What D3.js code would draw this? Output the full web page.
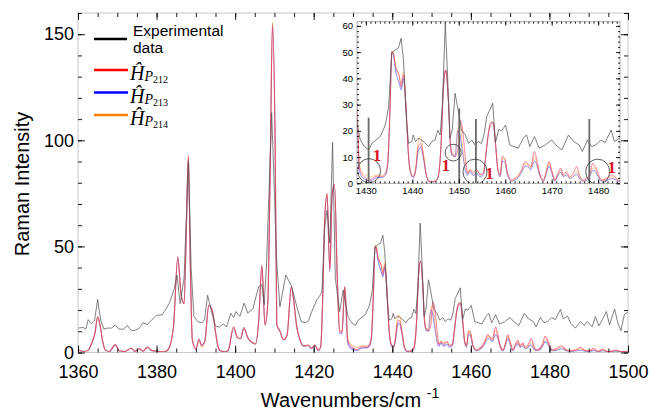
<!DOCTYPE html>
<html>
<head>
<meta charset="utf-8">
<script src="https://cdn.jsdelivr.net/npm/d3@7"></script>
<style>
body { margin: 0; background: #fff; }
svg { display: block; }
text { font-family: "Liberation Sans", Arial, sans-serif; }
</style>
</head>
<body>
<svg id="chart" width="650" height="412"></svg>
<script>
// experimental spectrum
var expWn = [1360,1361.3,1362,1362.6,1363.4,1364.2,1365,1365.8,1366.6,1367.5,
  1368.5,1369.5,1370.4,1371.6,1372.6,1373.6,1374.6,1375.6,1376.5,1377.7,
  1378.8,1380,1381.4,1382.4,1383.2,1384.5,1385.2,1386,1387,1388.1,
  1388.8,1389.5,1390.5,1391.6,1392.2,1393,1394,1395,1396,1397,
  1397.8,1398.9,1399.6,1400.2,1401.2,1402.3,1403.2,1404.5,1405.4,1406,
  1406.8,1407.4,1408,1408.7,1409.3,1410,1410.5,1411.4,1412.9,1413.6,
  1414.4,1415.7,1416.8,1417.8,1418.7,1419.5,1420.8,1421.6,1422.1,1422.8,
  1423.4,1424.1,1424.8,1425.5,1426.6,1427.5,1428,1428.8,1429.7,1430.6,
  1431.3,1432.2,1433.1,1434.2,1434.9,1435.6,1436.3,1437,1437.6,1438.1,
  1438.8,1439.2,1439.9,1440.2,1440.7,1441.3,1442,1442.8,1443.5,1444.2,
  1444.9,1445.5,1446,1446.5,1447.1,1447.6,1448.1,1448.6,1449.2,1449.8,
  1450.6,1451.4,1452.1,1452.8,1453.5,1454.2,1454.9,1455.5,1456,1456.7,
  1457.3,1457.9,1458.6,1459.2,1460.1,1461,1462.8,1463.9,1464.6,1465.3,
  1466.3,1467.3,1468.6,1470,1470.9,1472.2,1473.6,1474.7,1475.9,1476.6,
  1477.7,1478.6,1479.5,1480.6,1481.5,1482.8,1483.5,1484.6,1485.4,1486.6,
  1487.9,1488.9,1489.6,1490.9,1491.7,1492.6,1493.6,1494.5,1495.3,1496.1,
  1496.6,1497.4,1498.2,1499.1,1500];
var expInt = [11.5,11.8,11,15.5,13.5,15,25,15,11,11.5,
  11.5,13,11,11,12.7,10.3,10.5,11.5,14,13.2,
  15.5,17.5,17.8,20.5,23,30,36.5,23,35,90,
  40,17,14.5,14,15.5,27,19,12.5,12,13.5,
  12,18.5,16.5,19.3,17,23.3,18.6,20.5,27,31,
  32,22.5,42,80,113,75,45,21.6,36.5,34,
  31,21.6,14.7,14,15,19.3,24.8,27,28.5,59,
  67,51.6,99,35,19.3,29.5,24,16.5,14,12.7,
  15.2,16.5,17.8,22.2,29.2,49.6,50.8,51.5,55.3,47,
  22.9,15.2,15.9,18.4,15.9,17.2,16.5,15.2,14,15.9,
  16.5,20.3,18.4,30.5,61,40.7,17.2,20.3,34.3,28.6,
  20.3,18.4,15.2,16.5,14.6,15.9,15.2,19,25.4,28,
  30.5,15.5,20.5,20,22.2,14.6,13.4,17.2,18.4,14,
  17.8,13.4,14.6,16.5,14.6,12.7,18.4,15.9,14.6,12.1,
  16.5,14,14.6,16.5,15.5,20.3,15.9,17.2,13.8,11.5,
  14.6,12.7,14.6,12.2,16.9,12.5,16,19.3,13,17.8,
  20.4,14,10.3,18.1,19];

// computed spectra (shared wavenumber grid)
var thWn = [1360,1361.5,1362.6,1363.4,1364.3,1365,1365.6,1366.3,1367,1368,
  1369.5,1370.5,1372,1373.5,1374.5,1375.5,1376.5,1377.7,1378.7,1380.2,
  1382,1383,1384.3,1385.4,1386.2,1387,1387.6,1388.1,1388.6,1389.1,
  1390,1390.8,1391.5,1392.3,1393.3,1394.2,1394.9,1395.5,1396.2,1397.5,
  1398.2,1399.6,1400.6,1401.4,1402.2,1403.2,1404.5,1405.2,1406,1406.8,
  1407.6,1408.3,1408.9,1409.5,1410.2,1410.6,1411.4,1412.3,1413.2,1414.3,
  1414.8,1415.7,1416.5,1417.4,1418.6,1419.5,1420.3,1421.2,1421.8,1422.2,
  1422.8,1423.4,1424.1,1424.7,1425.3,1426,1426.6,1427.2,1427.9,1428.3,
  1428.6,1429.1,1430.2,1430.9,1432,1432.7,1433.4,1434.2,1434.7,1435.2,
  1435.6,1435.9,1436.4,1437.2,1437.6,1438.1,1438.6,1439.2,1439.7,1440.2,
  1440.7,1441.3,1441.8,1442.4,1443.1,1443.8,1444.5,1445.3,1445.8,1446.2,
  1446.7,1447.2,1447.8,1448.2,1448.6,1449.2,1449.8,1450.3,1450.8,1451.4,
  1451.9,1452.4,1453.1,1453.9,1454.6,1455.3,1455.8,1456.4,1456.9,1457.4,
  1457.9,1458.4,1458.9,1459.4,1459.9,1460.5,1461.4,1462.1,1462.8,1463.5,
  1464.3,1464.8,1465.5,1466.3,1466.8,1467.5,1468.2,1468.9,1469.4,1470,
  1470.7,1471.3,1472,1472.5,1473.2,1473.9,1474.6,1475.4,1476.1,1476.8,
  1477.5,1478.2,1478.9,1479.4,1480,1480.7,1481.8,1482.9,1483.6,1484.3,
  1485.5,1487,1488,1489,1490.2,1491.3,1492.3,1493.6,1495,1496,
  1497,1498,1500];
var hP212 = [1.2,0.5,1.0,4,9,17,13,5,1,0.5,
  3.7,0.8,0.5,2,0.5,1.8,0.6,2.5,1.0,0.5,
  0.3,1.5,12,45,28,23,60,93,40,6,
  1.5,6.5,3.4,5.7,22.4,19.5,11,4,0.8,0.3,
  0.8,12,7,6.5,11.8,7,4.5,4,15,41,
  13,23,83,155,95,13,10,6,8,31,
  26,12,6,3,3.5,2,3.5,1,3,20,
  63,75,39,75,79,35,10,9.4,31,18,
  6.4,3.8,1.9,1.3,2.5,2.8,2.5,3.6,7.6,28,
  50.2,49.6,44.5,40.7,36.8,41.3,30.5,10.2,3.8,2.5,
  5.1,14,15.2,10.2,2.5,0.6,0.6,1.3,5.1,15.2,
  36.8,43.2,30.5,15.2,11.4,10.2,12.7,24,21,10.2,
  3.8,5.1,3.8,5.1,3.2,3.8,10.2,19,22.2,22.9,
  15.2,5.7,3.2,10.2,9.5,3.8,1.3,1.9,3,5.1,
  8.3,7.6,6.4,12.1,8.9,3.2,1.3,5.1,8.3,5.1,
  1.3,3.8,5.7,3.2,4.4,2.5,3.8,6.4,2.5,1.3,
  1.9,3.8,7.6,6.4,3.8,1.3,1.9,3.2,2.5,1.3,
  0.8,1.5,2.5,1.0,0.8,2.0,0.6,1.5,0.4,0.8,
  1.2,0.4,0.5];
var hP213 = [1.1,0.5,1.0,4,9,16.5,13,5,1,0.5,
  3.6,0.8,0.5,2,0.5,1.8,0.6,2.4,1.0,0.5,
  0.3,1.5,12,45,28,23,60,92,40,6,
  1.5,6,3.2,5.5,22,19.5,11,4,0.8,0.3,
  0.8,11.8,7,6.5,11.5,7,4.5,4,15,41,
  13,23,83,154,95,13,10,6,8,31,
  26,12,6,3,3.2,1.8,3.2,0.8,3,20,
  63,74,38,75,79,35,9,9,31,17,
  5,2.5,1.2,0.8,1.9,2.2,2.2,3,7,28,
  50,49,43,38,35.6,40,29,10,3.5,2.2,
  4.5,12.5,13.8,9.5,2.3,0.5,0.5,1.2,5,15,
  36.5,43,30,14.5,10.5,10.2,20,18,12,5,
  3,4.5,3,3.8,2.5,3.2,10,19.5,23,23.2,
  15,5,2.5,8.5,8,3,0.8,1.2,2.2,4,
  6.5,6.5,5.2,8.5,7,2.5,0.8,4,6.5,4,
  0.8,2.8,4.2,2.5,3.2,1.8,2.5,3.5,1.5,0.8,
  1.2,2.8,5,4.5,2.5,0.8,1.0,1.8,1.5,0.8,
  0.5,0.8,1.2,0.6,0.4,1.0,0.4,0.8,0.3,0.5,
  0.6,0.3,0.3];
var hP214 = [1.3,0.6,1.1,4.2,9,16.8,13.2,5.2,1.1,0.6,
  3.8,0.9,0.6,2.1,0.6,1.9,0.7,2.6,1.1,0.6,
  0.4,1.6,12,45,28,23,60,93,40,6.2,
  1.8,5.5,2.2,5.2,22.5,19.8,11.2,4.2,1.0,0.4,
  1.0,12,7.2,6.6,11.6,7.2,4.6,4.2,15,41,
  13,23,83,156,95,13.2,10.2,6.2,8.2,31,
  26,12,6.2,3.2,3.6,2.2,3.6,1.2,3.2,20,
  63,75,39,75,79,35,11,10,31,21,
  8,4.5,3,2.5,3,3.2,3,4,8,29,
  50.5,50,45,41,38,42.5,31,11,4.2,3,
  6,16,17.8,11.5,3,0.8,0.8,1.5,5.5,15.5,
  37,43,30.5,15,11,11,21,22,14,6,
  4,5.5,4.5,5,3.5,4,10.5,20,23.5,23.5,
  15.5,5.5,3,9.5,9,3.5,1,1.5,2.6,4.6,
  7.5,7.2,5.8,10,8,2.8,1,4.6,7.5,4.6,
  1,3.2,5,2.8,3.8,2,3,4.5,2,1,
  1.5,3.2,6,5.5,3,1,1.4,2.5,2,1,
  0.6,1.1,1.8,0.8,0.6,1.4,0.5,1.1,0.3,0.6,
  0.9,0.3,0.4];

var seriesNames = ['212', '213', '214'];
var seriesColors = ['#ff0000', '#0000ff', '#ff8000'];
var xTicksMain = [1360, 1380, 1400, 1420, 1440, 1460, 1480, 1500];
var yTicksMain = [0, 50, 100, 150];
var xTicksInset = [1430, 1440, 1450, 1460, 1470, 1480];
var yTicksInset = [0, 10, 20, 30, 40, 50, 60];

// inset marks: vertical bars and circled "1" annotations
var barWn = [1430.6, 1450.1, 1453.7, 1478.1];
var barTop = [25, 28.5, 24.5, 24.5];
var ringWn = [1430.7, 1448.8, 1453.5, 1479.9];
var ringVal = [4.8, 11.7, 4.4, 4.4];
var ringR = [11.5, 8, 12, 12];
var noteWn = [1432.4, 1447.2, 1456.6, 1482.9];
var noteVal = [10.8, 7, 3.8, 6.4];

var svg = d3.select('#chart');

var x = d3.scaleLinear().domain([1360, 1500]).range([78, 628]);
var y = d3.scaleLinear().domain([0, 160]).range([352.5, 13]);
var xi = d3.scaleLinear().domain([1428.1, 1484.7]).range([357, 620]);
var yi = d3.scaleLinear().domain([0, 61.6]).range([183.3, 21.7]);

var defs = svg.append('defs');
defs.append('clipPath').attr('id', 'clipMain').append('rect')
  .attr('x', 78).attr('y', 13).attr('width', 550).attr('height', 339.5);
defs.append('clipPath').attr('id', 'clipInset').append('rect')
  .attr('x', 357).attr('y', 21.7).attr('width', 263).attr('height', 161.6);

var theory = [hP213, hP214, hP212];
var theoryCol = ['#2020ff', '#ff9020', '#f01030'];
var theoryOp = [0.5, 0.45, 0.5];

function drawSpectra(g, sx, sy, w) {
  var lineExp = d3.line().x(function(d, i){ return sx(expWn[i]); }).y(function(d){ return sy(d); });
  theory.forEach(function(vals, k) {
    var ln = d3.line().curve(d3.curveMonotoneX)
      .x(function(d, i){ return sx(thWn[i]); }).y(function(d){ return sy(d); });
    g.append('path').datum(vals).attr('d', ln)
      .attr('fill', 'none').attr('stroke', theoryCol[k])
      .attr('stroke-opacity', theoryOp[k]).attr('stroke-width', w);
  });
  g.append('path').datum(expInt).attr('d', lineExp)
    .attr('fill', 'none').attr('stroke', '#505050').attr('stroke-opacity', 0.9)
    .attr('stroke-width', 0.8);
}

// main plot
var gMain = svg.append('g').attr('clip-path', 'url(#clipMain)');
drawSpectra(gMain, x, y, 1.1);

// inset background
svg.append('rect').attr('x', 338).attr('y', 13).attr('width', 289).attr('height', 187)
  .attr('fill', '#fff');

var gIn = svg.append('g').attr('clip-path', 'url(#clipInset)');
drawSpectra(gIn, xi, yi, 1.0);

gIn.selectAll('.bar').data(barWn).enter().append('line')
  .attr('x1', function(d){ return xi(d); }).attr('x2', function(d){ return xi(d); })
  .attr('y1', yi(0)).attr('y2', function(d, i){ return yi(barTop[i]); })
  .attr('stroke', '#6a6a6a').attr('stroke-width', 1.8);

gIn.selectAll('.ring').data(ringWn).enter().append('ellipse')
  .attr('cx', function(d){ return xi(d); })
  .attr('cy', function(d, i){ return yi(ringVal[i]); })
  .attr('rx', function(d, i){ return ringR[i]; })
  .attr('ry', function(d, i){ return ringR[i] * 1.05; })
  .attr('fill', 'none').attr('stroke', '#333').attr('stroke-width', 0.8);

svg.selectAll('.note').data(noteWn).enter().append('text')
  .attr('x', function(d){ return xi(d); })
  .attr('y', function(d, i){ return yi(noteVal[i]) + 6; })
  .attr('text-anchor', 'middle')
  .style('font-family', '"Liberation Serif", serif')
  .style('font-weight', 'bold').style('font-size', '17px')
  .attr('fill', '#d8142a').text('1');

// inset frame & axes
svg.append('rect').attr('x', 357).attr('y', 21.7).attr('width', 263).attr('height', 161.6)
  .attr('fill', 'none').attr('stroke', '#999').attr('stroke-width', 0.8);

function tickAxis(axis, tr, minor, major, lenMinor, lenMajor, labels, pad, size) {
  var g1 = svg.append('g').attr('transform', tr)
    .call(axis.tickValues(minor).tickSize(-lenMinor).tickFormat(''));
  g1.select('.domain').remove();
  var g2 = svg.append('g').attr('transform', tr)
    .call(axis.tickValues(major).tickSize(-lenMajor).tickPadding(pad)
      .tickFormat(labels ? d3.format('d') : ''));
  g2.select('.domain').remove();
  g2.selectAll('text').style('font-size', size + 'px').attr('fill', '#000');
  svg.selectAll('.tick line').attr('stroke', '#000').attr('stroke-width', 0.9);
}

tickAxis(d3.axisBottom(xi), 'translate(0,183.3)', d3.range(1429, 1485, 1), xTicksInset, 2, 4, true, 4, 9.5);
tickAxis(d3.axisTop(xi), 'translate(0,21.7)', d3.range(1429, 1485, 1), xTicksInset, 2, 4, false, 3, 9.5);
tickAxis(d3.axisLeft(yi), 'translate(357,0)', d3.range(0, 62, 2), yTicksInset, 2, 4, true, 4, 9.5);
tickAxis(d3.axisRight(yi), 'translate(620,0)', d3.range(0, 62, 2), yTicksInset, 2, 4, false, 3, 9.5);

// main frame & axes
svg.append('rect').attr('x', 78).attr('y', 13).attr('width', 550).attr('height', 339.5)
  .attr('fill', 'none').attr('stroke', '#c8c8c8').attr('stroke-width', 1);

tickAxis(d3.axisBottom(x), 'translate(0,352.5)', d3.range(1360, 1501, 5), xTicksMain, 4, 7, true, 12.5, 18);
tickAxis(d3.axisTop(x), 'translate(0,13)', d3.range(1360, 1501, 5), xTicksMain, 4, 7, false, 3, 18);
tickAxis(d3.axisLeft(y), 'translate(78,0)', d3.range(0, 161, 10), yTicksMain, 4, 7, true, 4, 18);
tickAxis(d3.axisRight(y), 'translate(628,0)', d3.range(0, 161, 10), yTicksMain, 4, 7, false, 3, 18);

// axis titles
svg.append('text').attr('transform', 'translate(29,184) rotate(-90)')
  .attr('text-anchor', 'middle').style('font-size', '20px').text('Raman Intensity');
var xt = svg.append('text').attr('x', 350).attr('y', 407).attr('text-anchor', 'middle')
  .style('font-size', '20px');
xt.append('tspan').text('Wavenumbers/cm ');
xt.append('tspan').attr('dy', -9).style('font-size', '14px').text('-1');

// legend
var lg = svg.append('g');
lg.append('line').attr('x1', 94).attr('x2', 127).attr('y1', 39).attr('y2', 39)
  .attr('stroke', '#000').attr('stroke-width', 2.5);
lg.append('text').attr('x', 133).attr('y', 36).style('font-size', '15.5px').text('Experimental');
lg.append('text').attr('x', 133).attr('y', 53).style('font-size', '15.5px').text('data');

seriesNames.forEach(function(s, i) {
  var ly = 70 + i * 22.5;
  lg.append('line').attr('x1', 94).attr('x2', 128).attr('y1', ly).attr('y2', ly)
    .attr('stroke', seriesColors[i]).attr('stroke-width', 2.5);
  var t = lg.append('text').attr('x', 130).attr('y', ly + 10)
    .style('font-family', '"Liberation Serif", "DejaVu Serif", serif');
  t.append('tspan').style('font-style', 'italic').style('font-size', '20px').text('\u0124');
  t.append('tspan').attr('dy', 1).style('font-style', 'italic').style('font-size', '14px').text('P');
  t.append('tspan').attr('dy', 2).style('font-size', '10px').text(s);
});
</script>
</body>
</html>
